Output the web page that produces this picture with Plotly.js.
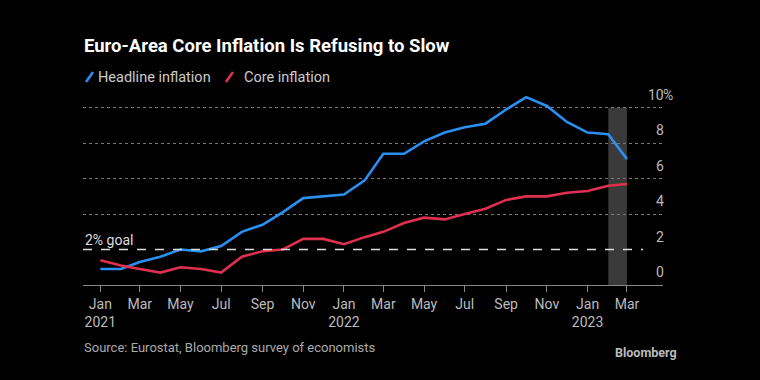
<!DOCTYPE html>
<html>
<head>
<meta charset="utf-8">
<script src="https://cdn.plot.ly/plotly-3.0.1.min.js"></script>
<style>html,body{margin:0;padding:0;background:#000;}#chart{width:760px;height:380px;}</style>
</head>
<body>
<div id="chart"></div>
<script>
// Data
const months = [
  "2021-01-01","2021-02-01","2021-03-01","2021-04-01","2021-05-01","2021-06-01",
  "2021-07-01","2021-08-01","2021-09-01","2021-10-01","2021-11-01","2021-12-01",
  "2022-01-01","2022-02-01","2022-03-01","2022-04-01","2022-05-01","2022-06-01",
  "2022-07-01","2022-08-01","2022-09-01","2022-10-01","2022-11-01","2022-12-01",
  "2023-01-01","2023-02-01","2023-03-01"
];
const headline = [0.9,0.9,1.3,1.6,2.0,1.9,2.2,3.0,3.4,4.1,4.9,5.0,
                  5.1,5.9,7.4,7.4,8.1,8.6,8.9,9.1,9.9,10.6,10.1,9.2,
                  8.6,8.5,7.1];
const core = [1.4,1.1,0.9,0.7,1.0,0.9,0.7,1.6,1.9,2.0,2.6,2.6,
              2.3,2.7,3.0,3.5,3.8,3.7,4.0,4.3,4.8,5.0,5.0,5.2,
              5.3,5.6,5.7];
const tickDates = ["2021-01-01","2021-03-01","2021-05-01","2021-07-01","2021-09-01","2021-11-01",
                   "2022-01-01","2022-03-01","2022-05-01","2022-07-01","2022-09-01","2022-11-01",
                   "2023-01-01","2023-03-01"];
const tickText = ["Jan<br>2021","Mar","May","Jul","Sep","Nov",
                  "Jan<br>2022","Mar","May","Jul","Sep","Nov",
                  "Jan<br>2023","Mar"];
const yLabels = [0,2,4,6,8,10];
const goal = 2;
const forecastStart = "2023-02-01";
const forecastEnd = "2023-03-01";

const FONT = "Roboto, 'Noto Sans', sans-serif";
const blue = "#2a8ff0", red = "#e0304f";

const traces = [
  {x: months, y: headline, type: "scatter", mode: "lines", name: "Headline inflation",
   line: {color: blue, width: 2.6}, showlegend: false, hoverinfo: "skip"},
  {x: months, y: core, type: "scatter", mode: "lines", name: "Core inflation",
   line: {color: red, width: 2.6}, showlegend: false, hoverinfo: "skip"}
];

const L = 83, W = 580, B = 285, H = 195;
const px = v => (v - L) / W;
const py = v => (B - v) / H;

const annotations = [];
yLabels.forEach(v => {
  annotations.push({xref: "paper", yref: "y", x: px(666), y: v, text: String(v),
    xanchor: "right", yanchor: "bottom", yshift: 3, showarrow: false,
    font: {family: FONT, size: 14, color: "#bbb"}});
});
annotations.push({xref: "paper", yref: "y", x: px(666), y: 10, text: "%",
  xanchor: "left", yanchor: "bottom", yshift: 3, xshift: -5, showarrow: false,
  font: {family: FONT, size: 14, color: "#bbb"}});
annotations.push({xref: "paper", yref: "y", x: px(83), y: goal, text: "2% goal",
  xanchor: "left", yanchor: "bottom", yshift: 0, showarrow: false,
  font: {family: FONT, size: 14, color: "#ddd"}});
annotations.push({xref: "paper", yref: "paper", x: px(96), y: py(77), text: "Headline inflation",
  xanchor: "left", yanchor: "middle", showarrow: false,
  font: {family: FONT, size: 14.5, color: "#ccc"}});
annotations.push({xref: "paper", yref: "paper", x: px(242), y: py(77), text: "Core inflation",
  xanchor: "left", yanchor: "middle", showarrow: false,
  font: {family: FONT, size: 14.5, color: "#ccc"}});
annotations.push({xref: "paper", yref: "paper", x: px(82), y: py(347), text: "Source: Eurostat, Bloomberg survey of economists",
  xanchor: "left", yanchor: "middle", showarrow: false,
  font: {family: FONT, size: 13, color: "#aaa"}});
annotations.push({xref: "paper", yref: "paper", x: px(679), y: py(352), text: "<b>Bloomberg</b>",
  xanchor: "right", yanchor: "middle", showarrow: false,
  font: {family: FONT, size: 12.5, color: "#bbb"}});

const shapes = [
  {type: "rect", xref: "x", yref: "y", x0: forecastStart, x1: forecastEnd, y0: 0, y1: 10,
   fillcolor: "#3a3a3a", line: {width: 0}, layer: "below"},
  {type: "line", xref: "paper", yref: "y", x0: 0, x1: px(643), y0: goal, y1: goal,
   line: {color: "#ddd", width: 1.5, dash: "dash"}},
  {type: "line", xref: "paper", yref: "paper", x0: px(86), x1: px(93), y0: py(82), y1: py(72),
   line: {color: blue, width: 2.6}},
  {type: "line", xref: "paper", yref: "paper", x0: px(226), x1: px(233), y0: py(82), y1: py(72),
   line: {color: red, width: 2.6}}
];

const layout = {
  width: 760, height: 380,
  paper_bgcolor: "#000", plot_bgcolor: "#000",
  margin: {l: 83, r: 97, t: 90, b: 95},
  font: {family: FONT, color: "#bbb"},
  title: {text: "<b>Euro-Area Core Inflation Is Refusing to Slow</b>",
          xref: "container", yref: "container", x: 84/760, xanchor: "left",
          y: 1 - 46/380, yanchor: "middle",
          font: {family: FONT, size: 18.5, color: "#fff"}},
  xaxis: {type: "date", range: ["2020-12-06", "2023-04-24"],
          tickmode: "array", tickvals: tickDates, ticktext: tickText,
          ticks: "outside", ticklen: 6, tickcolor: "#888", tickwidth: 1,
          showline: true, linecolor: "#888", linewidth: 1,
          showgrid: false, zeroline: false,
          tickfont: {family: FONT, size: 14, color: "#bbb"}, fixedrange: true},
  yaxis: {range: [0, 11], tickmode: "array", tickvals: [4, 6, 8, 10],
          showgrid: true, gridcolor: "#777", griddash: "dot", gridwidth: 1,
          showticklabels: false, zeroline: false, ticks: "", fixedrange: true},
  shapes: shapes,
  annotations: annotations,
  showlegend: false
};

Plotly.newPlot("chart", traces, layout, {staticPlot: true, displayModeBar: false});
</script>
</body>
</html>
